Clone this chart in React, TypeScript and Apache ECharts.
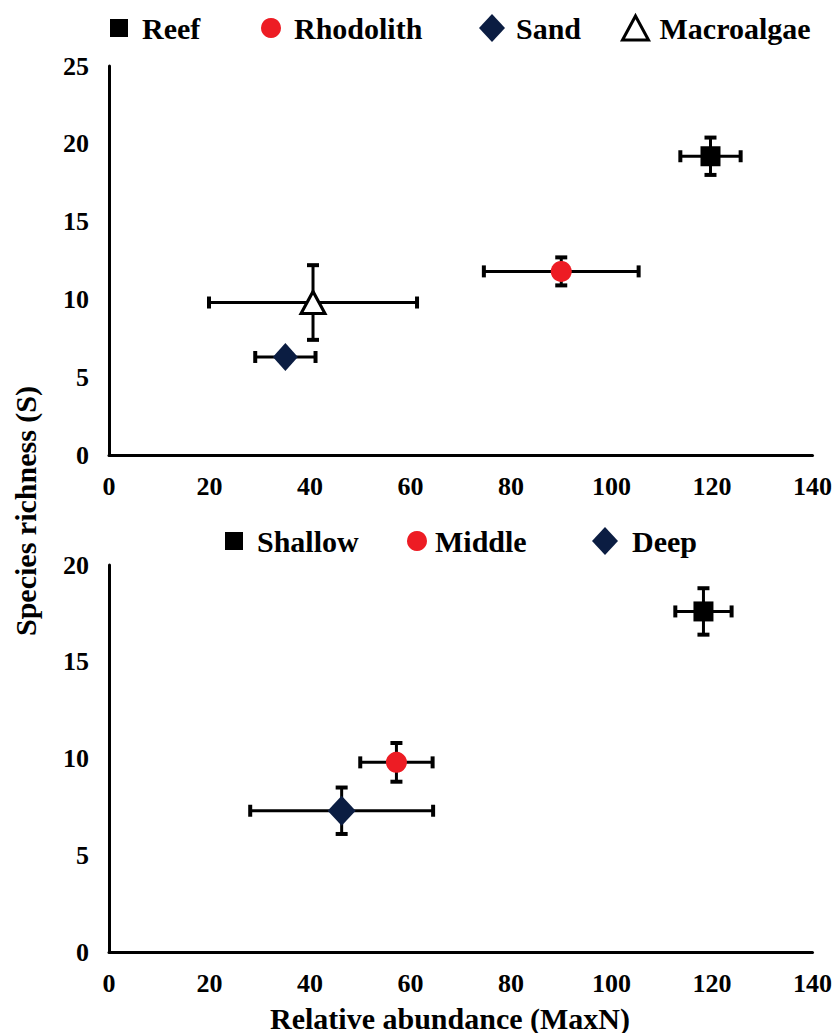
import React, { useEffect, useRef } from "react";
import * as echarts from "echarts";

// ---- Data ----
const habitatNames = ["Reef", "Rhodolith", "Sand", "Macroalgae"];
const habitatAbundance = [119.7, 90.0, 35.1, 40.6];
const habitatAbundanceSE = [6.0, 15.4, 6.0, 20.7];
const habitatRichness = [19.2, 11.8, 6.3, 9.8];
const habitatRichnessSE = [1.2, 0.9, 0.3, 2.4];

const depthNames = ["Shallow", "Middle", "Deep"];
const depthAbundance = [118.3, 57.2, 46.3];
const depthAbundanceSE = [5.6, 7.2, 18.2];
const depthRichness = [17.6, 9.8, 7.3];
const depthRichnessSE = [1.2, 1.0, 1.2];

const xTickMax = 140;
const xTickStep = 20;
const topYMax = 25;
const bottomYMax = 20;
const yTickStep = 5;

const xTitle = "Relative abundance (MaxN)";
const yTitle = "Species richness (S)";

// ---- Styles ----
const FONT = "'Liberation Serif', 'Times New Roman', serif";
const markerStyles: Record<string, any> = {
  Reef: { symbol: "rect", size: 20, color: "#000000" },
  Rhodolith: { symbol: "circle", size: 21, color: "#ED1C24" },
  Sand: { symbol: "diamond", size: [25, 28], color: "#0B1D42" },
  Macroalgae: { symbol: "triangle", size: [24, 22], color: "#ffffff", border: "#000000" },
  Shallow: { symbol: "rect", size: 20, color: "#000000" },
  Middle: { symbol: "circle", size: 21, color: "#ED1C24" },
  Deep: { symbol: "diamond", size: [28, 30], color: "#0B1D42" },
};

const errorRender = (params: any, api: any) => {
  const x = api.value(0);
  const y = api.value(1);
  const ex = api.value(2);
  const ey = api.value(3);
  const l = api.coord([x - ex, y]);
  const r = api.coord([x + ex, y]);
  const t = api.coord([x, y + ey]);
  const b = api.coord([x, y - ey]);
  const cap = 6;
  const bar = { stroke: "#000", lineWidth: 3 };
  const capS = { stroke: "#000", lineWidth: 4 };
  return {
    type: "group",
    children: [
      { type: "line", shape: { x1: l[0], y1: l[1], x2: r[0], y2: r[1] }, style: bar },
      { type: "line", shape: { x1: l[0], y1: l[1] - cap, x2: l[0], y2: l[1] + cap }, style: capS },
      { type: "line", shape: { x1: r[0], y1: r[1] - cap, x2: r[0], y2: r[1] + cap }, style: capS },
      { type: "line", shape: { x1: t[0], y1: t[1], x2: b[0], y2: b[1] }, style: bar },
      { type: "line", shape: { x1: t[0] - cap, y1: t[1], x2: t[0] + cap, y2: t[1] }, style: capS },
      { type: "line", shape: { x1: b[0] - cap, y1: b[1], x2: b[0] + cap, y2: b[1] }, style: capS },
    ],
  };
};

const axisLabel = { fontFamily: FONT, fontWeight: "bold", fontSize: 26, color: "#000" };

function buildPanel(
  names: string[],
  xs: number[],
  xe: number[],
  ys: number[],
  ye: number[],
  idx: number
) {
  const series: any[] = [];
  series.push({
    type: "custom",
    name: "err" + idx,
    xAxisIndex: idx,
    yAxisIndex: idx,
    renderItem: errorRender,
    encode: { x: 0, y: 1 },
    data: names.map((_, i) => [xs[i], ys[i], xe[i], ye[i]]),
    z: 2,
    silent: true,
  });
  names.forEach((n, i) => {
    const m = markerStyles[n];
    series.push({
      type: "scatter",
      name: n,
      xAxisIndex: idx,
      yAxisIndex: idx,
      symbol: m.symbol,
      symbolSize: m.size,
      itemStyle: m.border
        ? { color: m.color, borderColor: m.border, borderWidth: 3, opacity: 1 }
        : { color: m.color, opacity: 1 },
      data: [[xs[i], ys[i]]],
      z: 5,
    });
  });
  return series;
}

const legendText = (padLeft: number) => ({
  fontFamily: FONT,
  fontWeight: "bold",
  fontSize: 30,
  color: "#000",
  lineHeight: 30,
  padding: [0, 0, 0, padLeft],
});

const legendItem = (
  name: string,
  left: number,
  top: number,
  w: number,
  h: number,
  pad: number
) => {
  const m = markerStyles[name];
  return {
    data: [
      {
        name,
        icon: m.symbol,
        itemStyle: m.border
          ? { color: m.color, borderColor: m.border, borderWidth: 3 }
          : { color: m.color },
      },
    ],
    left,
    top,
    padding: 0,
    itemWidth: w,
    itemHeight: h,
    selectedMode: false,
    textStyle: legendText(pad),
  };
};

export default function App() {
  const ref = useRef<HTMLDivElement>(null);
  useEffect(() => {
    if (!ref.current) return;
    const chart = echarts.init(ref.current, null, { renderer: "svg" });
    const xAxisBase = {
      type: "value",
      min: 0,
      max: xTickMax,
      interval: xTickStep,
      axisLine: { show: true, onZero: false, lineStyle: { color: "#000", width: 3 } },
      axisTick: { show: false },
      splitLine: { show: false },
      axisLabel: { ...axisLabel, margin: 18 },
    };
    const yAxisBase = {
      type: "value",
      min: 0,
      interval: yTickStep,
      axisLine: { show: true, onZero: false, lineStyle: { color: "#000", width: 3 } },
      axisTick: { show: false },
      splitLine: { show: false },
      axisLabel: { ...axisLabel, margin: 20 },
    };
    const option: any = {
      animation: false,
      backgroundColor: "#ffffff",
      grid: [
        { left: 109, top: 66, width: 704, height: 389 },
        { left: 109, top: 565, width: 704, height: 387 },
      ],
      xAxis: [
        { ...xAxisBase, gridIndex: 0 },
        { ...xAxisBase, gridIndex: 1 },
      ],
      yAxis: [
        { ...yAxisBase, gridIndex: 0, max: topYMax },
        { ...yAxisBase, gridIndex: 1, max: bottomYMax },
      ],
      legend: [
        legendItem("Reef", 110, 13, 18, 18, 9),
        legendItem("Rhodolith", 261, 13, 20, 20, 8),
        legendItem("Sand", 479, 13, 26, 28, 6),
        legendItem("Macroalgae", 621, 13, 26, 24, 6),
        legendItem("Shallow", 225, 526, 18, 18, 9),
        legendItem("Middle", 407, 526, 20, 20, 3),
        legendItem("Deep", 592, 526, 26, 28, 9),
      ],
      graphic: [
        {
          type: "text",
          x: 25,
          y: 511,
          rotation: Math.PI / 2,
          style: {
            text: yTitle,
            fontFamily: FONT,
            fontWeight: "bold",
            fontSize: 30,
            fill: "#000",
            align: "center",
            verticalAlign: "middle",
          },
        },
        {
          type: "text",
          x: 450,
          y: 1018,
          style: {
            text: xTitle,
            fontFamily: FONT,
            fontWeight: "bold",
            fontSize: 30,
            fill: "#000",
            align: "center",
            verticalAlign: "middle",
          },
        },
      ],
      series: [
        ...buildPanel(habitatNames, habitatAbundance, habitatAbundanceSE, habitatRichness, habitatRichnessSE, 0),
        ...buildPanel(depthNames, depthAbundance, depthAbundanceSE, depthRichness, depthRichnessSE, 1),
      ],
    };
    chart.setOption(option);
    return () => chart.dispose();
  }, []);
  return (
    <div
      ref={ref}
      style={{ position: "fixed", left: 0, top: 0, width: 835, height: 1033, background: "#fff" }}
    />
  );
}
